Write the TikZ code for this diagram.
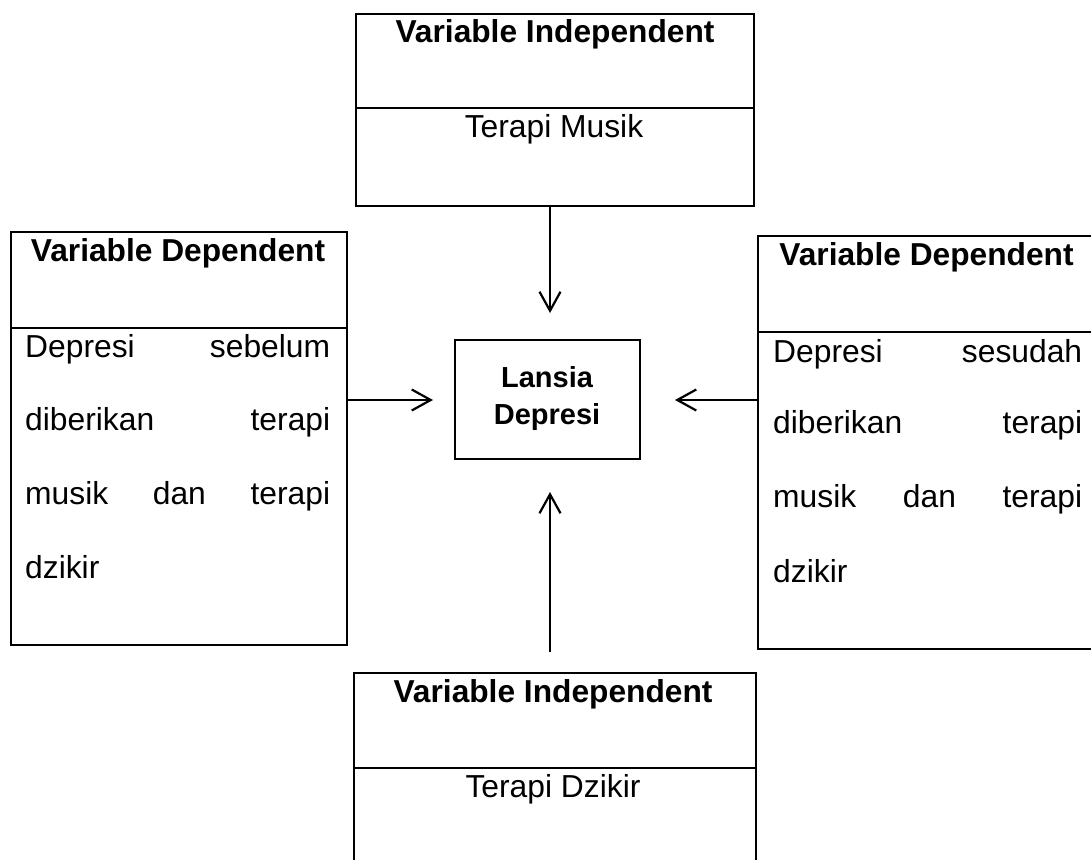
\documentclass[tikz,border=0pt]{standalone}
\usepackage{fontspec}
\setmainfont{Liberation Sans}
\usetikzlibrary{arrows.meta}
\begin{document}
\begin{tikzpicture}[x=1pt,y=-1pt,
  obox/.style={draw, line width=2.4pt, inner sep=0pt, anchor=north west},
  cbox/.style={draw, line width=1.5pt, inner sep=0pt, anchor=north west},
  head/.style={anchor=base, font=\fontsize{31.7}{37}\selectfont\bfseries, inner sep=0pt},
  body/.style={anchor=base, font=\fontsize{31.8}{37}\selectfont, inner sep=0pt},
  jbody/.style={anchor=base west, font=\fontsize{31.8}{37}\selectfont, inner sep=0pt},
  ctext/.style={anchor=base, font=\fontsize{29}{34}\selectfont\bfseries, inner sep=0pt},
  arr/.style={line width=2.2pt, -{Straight Barb[length=19pt,width=21pt]}},
  divider/.style={line width=2.4pt}]
\useasboundingbox (0,0) rectangle (1091,859);
\clip (0,0) rectangle (1091,859);

% boxes
\node[obox, minimum width=398pt, minimum height=192pt] (top) at (355,13) {};
\node[obox, minimum width=336pt, minimum height=413pt] (left) at (10,231) {};
\node[obox, minimum width=339pt, minimum height=413pt] (right) at (757,235) {};
\node[obox, minimum width=402pt, minimum height=228pt] (bottom) at (353,672) {};
\node[cbox, minimum width=185pt, minimum height=119pt] (center) at (454,339) {};

% dividers
\draw[divider] (top.west |- 0,108) -- (top.east |- 0,108);
\draw[divider] (left.west |- 0,328) -- (left.east |- 0,328);
\draw[divider] (right.west |- 0,332) -- (right.east |- 0,332);
\draw[divider] (bottom.west |- 0,768) -- (bottom.east |- 0,768);

% top box text
\node[head] (tophead) at (555,43) {Variable Independent};
\node[body] (topbody) at (554,137) {Terapi Musik};

% bottom box text
\node[head] (bothead) at (553,702) {Variable Independent};
\node[body] (botbody) at (553,797) {Terapi Dzikir};

% left box text
\node[head] (lefthead) at (178,261) {Variable Dependent};
\node[jbody] (l1) at (25,357) {\makebox[305pt][s]{Depresi sebelum}};
\node[jbody] (l2) at (25,430) {\makebox[305pt][s]{diberikan terapi}};
\node[jbody] (l3) at (25,504) {\makebox[305pt][s]{musik dan terapi}};
\node[jbody] (l4) at (25,578) {dzikir};

% right box text
\node[head] (righthead) at (926.5,265) {Variable Dependent};
\node[jbody] (r1) at (773,362) {\makebox[309pt][s]{Depresi sesudah}};
\node[jbody] (r2) at (773,433) {\makebox[309pt][s]{diberikan terapi}};
\node[jbody] (r3) at (773,507) {\makebox[309pt][s]{musik dan terapi}};
\node[jbody] (r4) at (773,582) {dzikir};

% center text
\node[ctext] (c1) at (547,387) {Lansia};
\node[ctext] (c2) at (547,424) {Depresi};

% arrows
\coordinate (ttip) at (550,313);
\coordinate (ltip) at (433,400);
\coordinate (rtip) at (675,400);
\coordinate (bstart) at (550,652);
\coordinate (btip) at (550,492);
\draw[arr] (top.south -| ttip) -- (ttip);
\draw[arr] (left.east |- ltip) -- (ltip);
\draw[arr] (right.west |- rtip) -- (rtip);
\draw[arr] (bstart) -- (btip);
\end{tikzpicture}
\end{document}
